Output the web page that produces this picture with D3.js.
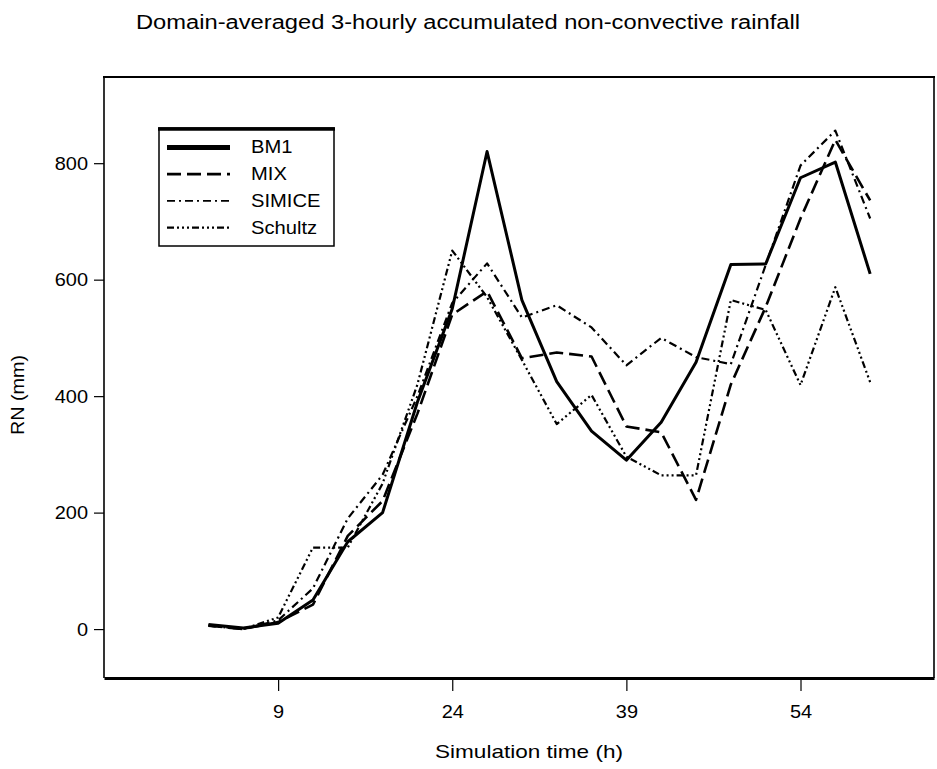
<!DOCTYPE html>
<html>
<head>
<meta charset="utf-8">
<script src="https://cdn.jsdelivr.net/npm/d3@7"></script>
<style>
  body { margin: 0; background: #fff; }
  svg text { font-family: "Liberation Sans", Arial, sans-serif; fill: #000; }
</style>
</head>
<body>
<div class="container"></div>
<script>
const hours = [3, 6, 9, 12, 15, 18, 21, 24, 27, 30, 33, 36, 39, 42, 45, 48, 51, 54, 57, 60]
const bm1 = [8, 2, 10, 50, 150, 200, 390, 550, 820, 565, 425, 340, 290, 355, 458, 626, 627, 775, 802, 610]
const mix = [6, 0, 12, 42, 160, 220, 370, 540, 580, 465, 475, 468, 348, 338, 222, 420, 553, 705, 840, 736]
const simice = [6, 0, 15, 70, 190, 265, 400, 560, 628, 535, 556, 518, 453, 500, 467, 455, 625, 796, 856, 705]
const schultz = [6, 0, 20, 140, 140, 250, 420, 650, 570, 462, 352, 402, 296, 264, 264, 565, 548, 419, 587, 424]
const xTicks = [9, 24, 39, 54]
const yTicks = [0, 200, 400, 600, 800]

const series = [
    { name: "BM1", values: bm1, width: 3, dash: null, legendWidth: 5 },
    { name: "MIX", values: mix, width: 2.6, dash: "14,6", legendWidth: 2.6 },
    { name: "SIMICE", values: simice, width: 2.2, dash: "8,4,2,4", legendWidth: 1.8 },
    { name: "Schultz", values: schultz, width: 2.2, dash: "7,3,2,3,2,3,2,3", legendWidth: 2.4 }
]

const w = 937
const h = 769
const plotLeft = 104, plotRight = 934, plotTop = 77, plotBottom = 678

const xScale = d3.scaleLinear().domain([-6, 65.5]).range([plotLeft, plotRight])
const yScale = d3.scaleLinear().domain([-84, 948]).range([plotBottom, plotTop])

const svg = d3.select(".container")
    .append("svg")
    .attr("width", w)
    .attr("height", h)

// stretch text horizontally like the original scan
const widen = (sel, k) => sel.each(function () {
    const len = this.getComputedTextLength()
    d3.select(this).attr("textLength", len * k).attr("lengthAdjust", "spacingAndGlyphs")
})

svg.append("text")
    .attr("x", 468)
    .attr("y", 29)
    .attr("text-anchor", "middle")
    .style("font-size", "20px")
    .attr("textLength", 664)
    .attr("lengthAdjust", "spacingAndGlyphs")
    .text("Domain-averaged 3-hourly accumulated non-convective rainfall")

// frame
svg.append("line").attr("x1", plotLeft).attr("x2", plotLeft).attr("y1", plotTop).attr("y2", plotBottom)
    .attr("stroke", "#000").attr("stroke-width", 1.6)
svg.append("line").attr("x1", plotRight).attr("x2", plotRight).attr("y1", plotTop).attr("y2", plotBottom)
    .attr("stroke", "#000").attr("stroke-width", 1.6)
svg.append("line").attr("x1", plotLeft - 1).attr("x2", plotRight + 1).attr("y1", plotTop).attr("y2", plotTop)
    .attr("stroke", "#000").attr("stroke-width", 2.2)

const xAxis = d3.axisBottom(xScale).tickValues(xTicks).tickSize(13).tickSizeOuter(0).tickPadding(14)
const yAxis = d3.axisLeft(yScale).tickValues(yTicks).tickSize(10).tickSizeOuter(0).tickPadding(6)

const gx = svg.append("g")
    .attr("transform", "translate(0," + plotBottom + ")")
    .call(xAxis)
gx.select(".domain").attr("stroke-width", 3)
gx.selectAll(".tick line").attr("stroke-width", 1.2)
gx.selectAll("text").style("font-size", "19px").attr("font-family", null).call(widen, 1.05)

const gy = svg.append("g")
    .attr("transform", "translate(" + plotLeft + ",0)")
    .call(yAxis)
gy.select(".domain").remove()
gy.selectAll(".tick line").attr("stroke-width", 1.2)
gy.selectAll("text").style("font-size", "19px").attr("font-family", null).call(widen, 1.05)

svg.append("text")
    .attr("x", 529)
    .attr("y", 758)
    .attr("text-anchor", "middle")
    .style("font-size", "19px")
    .attr("textLength", 188)
    .attr("lengthAdjust", "spacingAndGlyphs")
    .text("Simulation time (h)")

svg.append("text")
    .attr("transform", "rotate(-90)")
    .attr("x", -395)
    .attr("y", 24)
    .attr("text-anchor", "middle")
    .style("font-size", "18px")
    .attr("textLength", 80)
    .attr("lengthAdjust", "spacingAndGlyphs")
    .text("RN (mm)")

const line = d3.line()
    .x((d, i) => xScale(hours[i]))
    .y((d) => yScale(d))

svg.selectAll(".series")
    .data(series.slice().reverse())
    .enter()
    .append("path")
    .attr("class", "series")
    .attr("d", (d) => line(d.values))
    .attr("fill", "none")
    .attr("stroke", "#000")
    .attr("stroke-width", (d) => d.width)
    .attr("stroke-dasharray", (d) => d.dash)
    .attr("stroke-linejoin", "round")

// legend
const legend = svg.append("g").attr("id", "legend")
legend.append("rect")
    .attr("x", 159).attr("y", 128).attr("width", 175).attr("height", 118)
    .attr("fill", "#fff").attr("stroke", "#000").attr("stroke-width", 1.5)
legend.append("line")
    .attr("x1", 158).attr("x2", 335).attr("y1", 129).attr("y2", 129)
    .attr("stroke", "#000").attr("stroke-width", 3.5)

const legendY = d3.scaleBand().domain(series.map((d) => d.name)).range([134, 241])

const item = legend.selectAll(".item")
    .data(series)
    .enter()
    .append("g")
    .attr("class", "item")
    .attr("transform", (d) => "translate(0," + (legendY(d.name) + legendY.bandwidth() / 2) + ")")

item.append("line")
    .attr("x1", 167).attr("x2", 230)
    .attr("stroke", "#000")
    .attr("stroke-width", (d) => d.legendWidth)
    .attr("stroke-dasharray", (d) => d.dash)

item.append("text")
    .attr("x", 251)
    .attr("y", 6)
    .style("font-size", "18px")
    .text((d) => d.name)
    .call(widen, 1.12)
</script>
</body>
</html>
